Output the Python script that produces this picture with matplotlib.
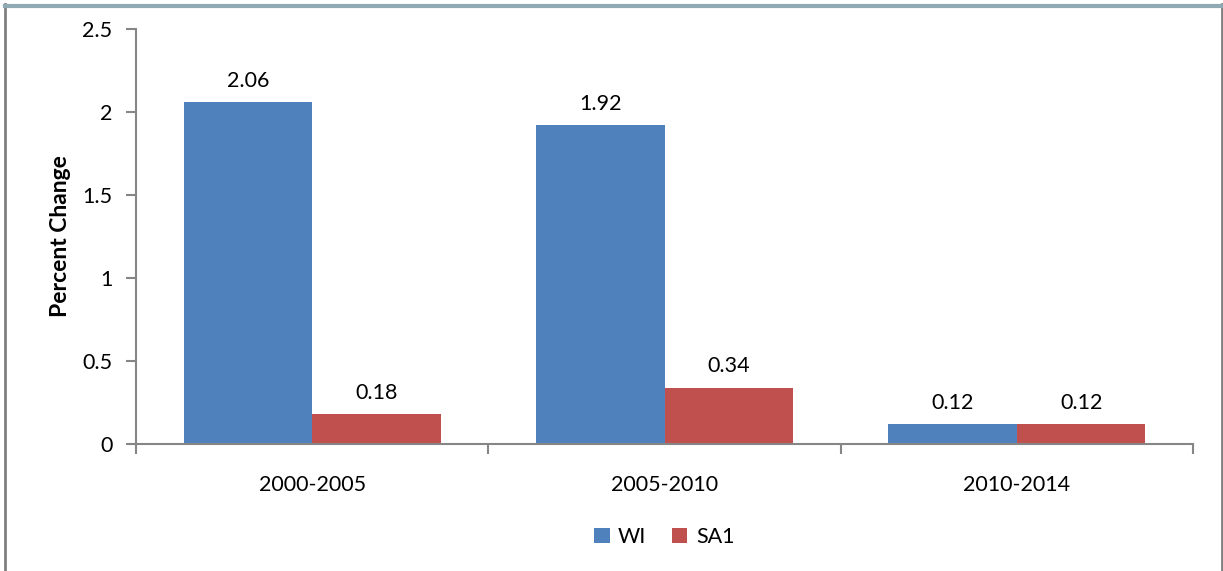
import matplotlib
matplotlib.use("Agg")
import matplotlib.pyplot as plt
from matplotlib.lines import Line2D
import numpy as np

categories = ["2000-2005", "2005-2010", "2010-2014"]
wi_values = [2.06, 1.92, 0.12]
sa1_values = [0.18, 0.34, 0.12]
series_names = ["WI", "SA1"]
y_ticks = [0, 0.5, 1, 1.5, 2, 2.5]
y_tick_labels = ["0", "0.5", "1", "1.5", "2", "2.5"]

blue = "#4F81BD"
red = "#C0504D"
axis_gray = "#868686"
fs = 15.5

plt.rcParams["font.family"] = ["Lato", "DejaVu Sans"]

fig = plt.figure(figsize=(12.23, 5.71), dpi=100)
ax = fig.add_axes([136 / 1223, 1 - 444 / 571, (1193 - 136) / 1223, (444 - 29) / 571])

x = np.arange(len(categories))
w = 0.365
b1 = ax.bar(x - w / 2, wi_values, w, color=blue, label=series_names[0])
b2 = ax.bar(x + w / 2, sa1_values, w, color=red, label=series_names[1])

for bars, vals in ((b1, wi_values), (b2, sa1_values)):
    for rect, v in zip(bars, vals):
        ax.annotate(f"{v:.2f}", (rect.get_x() + rect.get_width() / 2, v),
                    xytext=(0, 8), textcoords="offset points",
                    ha="center", va="bottom", fontsize=fs)

ax.set_xlim(-0.5, len(categories) - 0.5)
ax.set_ylim(0, 2.5)
ax.set_yticks(y_ticks)
ax.set_yticklabels(y_tick_labels, fontsize=fs)
ax.set_xticks(np.arange(len(categories) + 1) - 0.5)
ax.set_xticklabels([])
ax.set_xticks(x, minor=True)
ax.set_xticklabels(categories, minor=True, fontsize=fs)
ax.tick_params(axis="x", which="minor", length=0, pad=22)
ax.tick_params(axis="x", which="major", length=7, width=1.5, color=axis_gray, direction="out")
ax.tick_params(axis="y", length=7, width=1.5, color=axis_gray, direction="out", pad=10)

for side in ("top", "right"):
    ax.spines[side].set_visible(False)
for side in ("left", "bottom"):
    ax.spines[side].set_color(axis_gray)
    ax.spines[side].set_linewidth(1.5)

ax.set_ylabel("Percent Change", fontsize=16.5, fontweight="bold", labelpad=8)

ax.legend(handles=[b1, b2], loc="center", bbox_to_anchor=(0.5, -0.225), ncol=2,
          frameon=False, fontsize=fs, handlelength=0.7, handleheight=0.7,
          handletextpad=0.4, columnspacing=1.2)

# outer frame
fig.add_artist(Line2D([4.5 / 1223, 4.5 / 1223], [0, 1 - 4 / 571], transform=fig.transFigure,
                      color="#808080", linewidth=2))
fig.add_artist(Line2D([1221.5 / 1223, 1221.5 / 1223], [0, 1 - 4 / 571], transform=fig.transFigure,
                      color="#808080", linewidth=2))
fig.add_artist(Line2D([5 / 1223, 1], [1 - 6 / 571, 1 - 6 / 571], transform=fig.transFigure,
                      color="#8FAAB2", linewidth=3))

fig.savefig("out.png", dpi=100)
